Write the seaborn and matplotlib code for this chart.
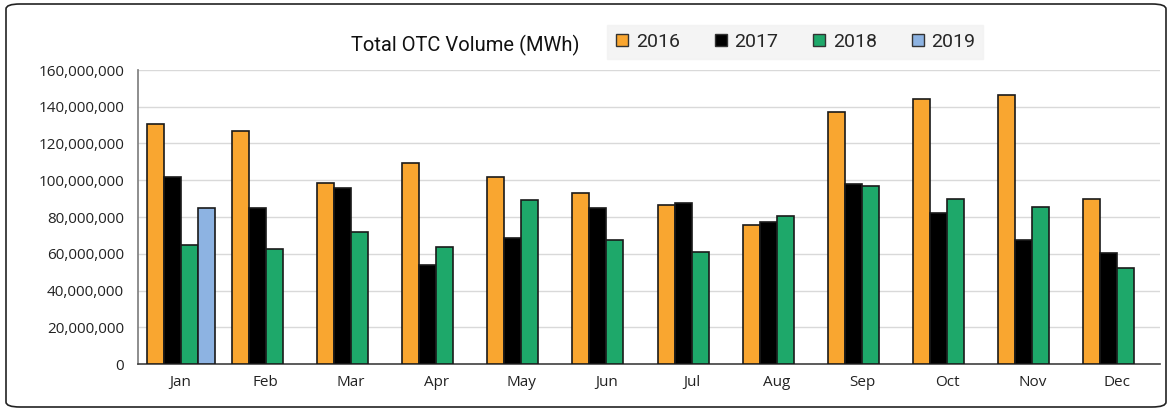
import matplotlib
matplotlib.use("Agg")
import matplotlib.pyplot as plt
from matplotlib.patches import FancyBboxPatch
from matplotlib.lines import Line2D
from matplotlib.ticker import FuncFormatter
import seaborn as sns
import pandas as pd
import numpy as np

months = ["Jan", "Feb", "Mar", "Apr", "May", "Jun", "Jul", "Aug", "Sep", "Oct", "Nov", "Dec"]
years = ["2016", "2017", "2018", "2019"]
v2016 = [130.5e6, 127e6, 98.5e6, 109.5e6, 102e6, 93e6, 86.5e6, 75.5e6, 137e6, 144e6, 146.5e6, 90e6]
v2017 = [102e6, 85e6, 96e6, 54e6, 68.5e6, 85e6, 87.5e6, 77.5e6, 98e6, 82e6, 67.5e6, 60.5e6]
v2018 = [65e6, 62.5e6, 72e6, 63.5e6, 89e6, 67.5e6, 61e6, 80.5e6, 97e6, 90e6, 85.5e6, 52e6]
v2019 = [85e6] + [np.nan] * 11
colors = ["#F9A630", "#000000", "#1EA86A", "#8DB3E2"]

rows = []
for y, vals in zip(years, [v2016, v2017, v2018, v2019]):
    for m, v in zip(months, vals):
        rows.append({"Month": m, "Year": y, "Volume": v})
df = pd.DataFrame(rows)

sns.set_theme(style="white")
plt.rcParams["font.family"] = ["Open Sans", "DejaVu Sans"]

fig = plt.figure(figsize=(11.72, 4.11), dpi=100)
ax = fig.add_axes([138 / 1172, 47 / 411, 1022 / 1172, 294 / 411])

sns.barplot(data=df, x="Month", y="Volume", hue="Year", hue_order=years,
            order=months, palette=colors, saturation=1, width=0.8, edgecolor="#1a1a1a",
            linewidth=1.2, ax=ax, legend=False, zorder=3)

ax.set_ylim(0, 160e6)
ax.set_yticks(np.arange(0, 160e6 + 1, 20e6))
ax.yaxis.set_major_formatter(FuncFormatter(lambda v, p: f"{int(v):,}"))
ax.set_xlim(-0.5, 11.5)
ax.grid(axis="y", color="#D9D9D9", linewidth=1, zorder=0)
ax.set_axisbelow(True)
ax.set_xlabel("")
ax.set_ylabel("")
for s in ["top", "right"]:
    ax.spines[s].set_visible(False)
ax.spines["left"].set_color("#808080")
ax.spines["bottom"].set_color("#404040")
ax.spines["bottom"].set_linewidth(1.2)
ax.tick_params(axis="both", length=0, labelsize=11, colors="#222222")
ax.tick_params(axis="y", pad=10)
ax.tick_params(axis="x", pad=8)

# Title
fig.text(465 / 1172, 1 - 45 / 411, "Total OTC Volume (MWh)", ha="center", va="center",
         fontsize=14.5, family=["Roboto", "DejaVu Sans"], color="#111111")

# Legend
handles = [Line2D([0], [0], marker="s", linestyle="none", markersize=9,
                  markerfacecolor=c, markeredgecolor="#333333", markeredgewidth=1)
           for c in colors]
leg = fig.legend(handles, years, ncol=4, loc="center", bbox_to_anchor=(795 / 1172, 1 - 42 / 411),
                 frameon=True, fancybox=False, handlelength=0.8, handletextpad=0.3,
                 columnspacing=1.7, prop={"family": "Roboto", "size": 14},
                 borderpad=0.4)
leg.get_frame().set_facecolor("#F2F2F2")
leg.get_frame().set_edgecolor("#F2F2F2")

# Rounded border
border = FancyBboxPatch((6 / 1172, 4 / 411), 1160 / 1172, 403 / 411,
                        boxstyle="round,pad=0,rounding_size=0.012",
                        transform=fig.transFigure, fill=False,
                        edgecolor="#222222", linewidth=1.2)
fig.patches.append(border)

fig.savefig("out.png", dpi=100)
